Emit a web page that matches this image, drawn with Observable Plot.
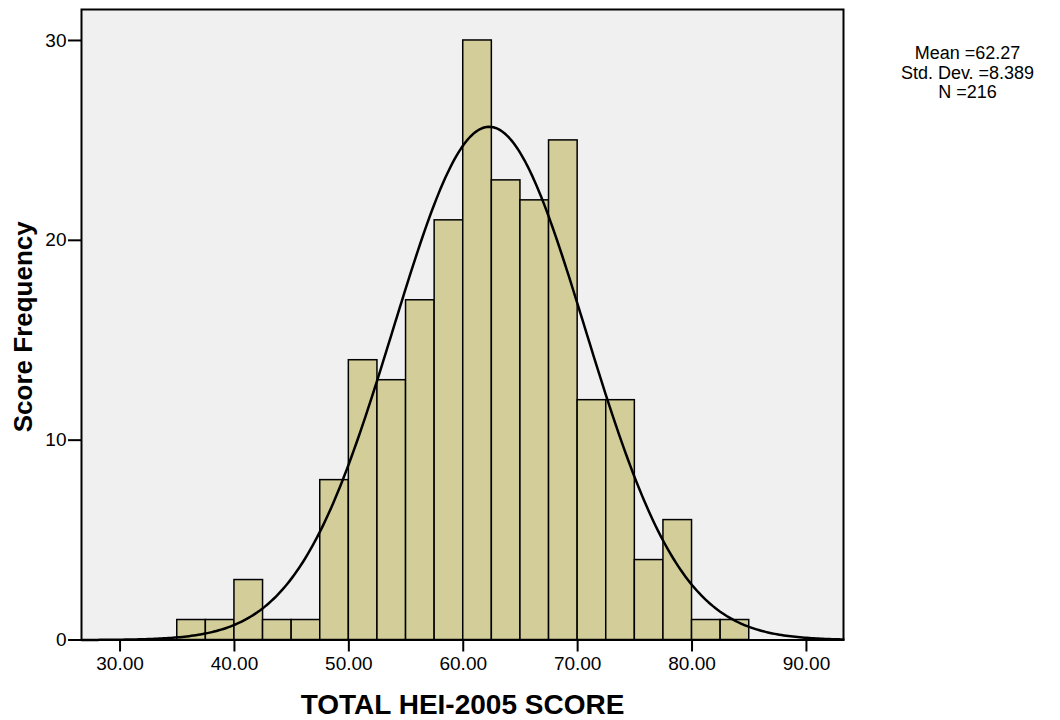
<!DOCTYPE html>
<html>
<head>
<meta charset="utf-8">
<script src="https://cdn.jsdelivr.net/npm/d3@7"></script>
<script src="https://cdn.jsdelivr.net/npm/@observablehq/plot@0.6"></script>
<style>
  html, body { margin: 0; padding: 0; background: #fff; }
</style>
</head>
<body>
<div id="chart"></div>
<script>
// Histogram bins (lower edge, width 2.5) and counts
const binStarts = [35, 37.5, 40, 42.5, 45, 47.5, 50, 52.5, 55, 57.5, 60, 62.5, 65, 67.5, 70, 72.5, 75, 77.5, 80, 82.5];
const counts    = [1, 1, 3, 1, 1, 8, 14, 13, 17, 21, 30, 23, 22, 25, 12, 12, 4, 6, 1, 1];
const binWidth = 2.5;
const xTicks = [30, 40, 50, 60, 70, 80, 90];
const yTicks = [0, 10, 20, 30];
const stats = { mean: 62.27, sd: 8.389, n: 216 };
const statLines = ["Mean =62.27", "Std. Dev. =8.389", "N =216"];

const bins = binStarts.map((s, i) => ({x1: s, x2: s + binWidth, y: counts[i]}));

// Fitted normal curve derived from the reported mean / SD / N
const xDomain = [26.63, 93.24];
const curve = d3.range(xDomain[0], xDomain[1] + 0.001, 0.2).map(x => ({
  x,
  y: stats.n * binWidth / (stats.sd * Math.sqrt(2 * Math.PI)) *
     Math.exp(-0.5 * ((x - stats.mean) / stats.sd) ** 2)
}));

const chart = Plot.plot({
  width: 1060,
  height: 720,
  marginLeft: 81,
  marginRight: 217,
  marginTop: 9,
  marginBottom: 80.5,
  style: { fontFamily: "'Liberation Sans', Arial, sans-serif", background: "#fff", color: "#000" },
  x: { domain: xDomain, label: null },
  y: { domain: [0, 31.55], label: null },
  marks: [
    Plot.frame({ fill: "#f0f0f0", stroke: null }),
    Plot.rectY(bins, { x1: "x1", x2: "x2", y: "y", fill: "#d3ce99", stroke: "#000", strokeWidth: 1.5 }),
    Plot.line(curve, { x: "x", y: "y", stroke: "#000", strokeWidth: 2.5 }),
    Plot.frame({ stroke: "#000", strokeWidth: 2 }),
    Plot.axisX({ ticks: xTicks, tickFormat: d => d.toFixed(2), tickSize: 12, tickPadding: 4, fontSize: 19, strokeWidth: 2, label: null }),
    Plot.axisY({ ticks: yTicks, tickFormat: d => String(d), tickSize: 13, tickPadding: 2, fontSize: 19, strokeWidth: 2, label: null }),
    Plot.text(["Score Frequency"], { frameAnchor: "left", textAnchor: "middle", rotate: -90, dx: -58, dy: 2, fontWeight: "bold", fontSize: 26, fill: "#000" }),
    Plot.text(["TOTAL HEI-2005 SCORE"], { frameAnchor: "bottom", textAnchor: "middle", dy: 74, fontWeight: "bold", fontSize: 28, fill: "#000" }),
    ...statLines.map((line, i) => Plot.text([line], { frameAnchor: "top-right", textAnchor: "middle", dx: 124, dy: 37 + i * 19.5, fontSize: 18, fill: "#000" }))
  ]
});
document.getElementById("chart").appendChild(chart);
</script>
</body>
</html>
